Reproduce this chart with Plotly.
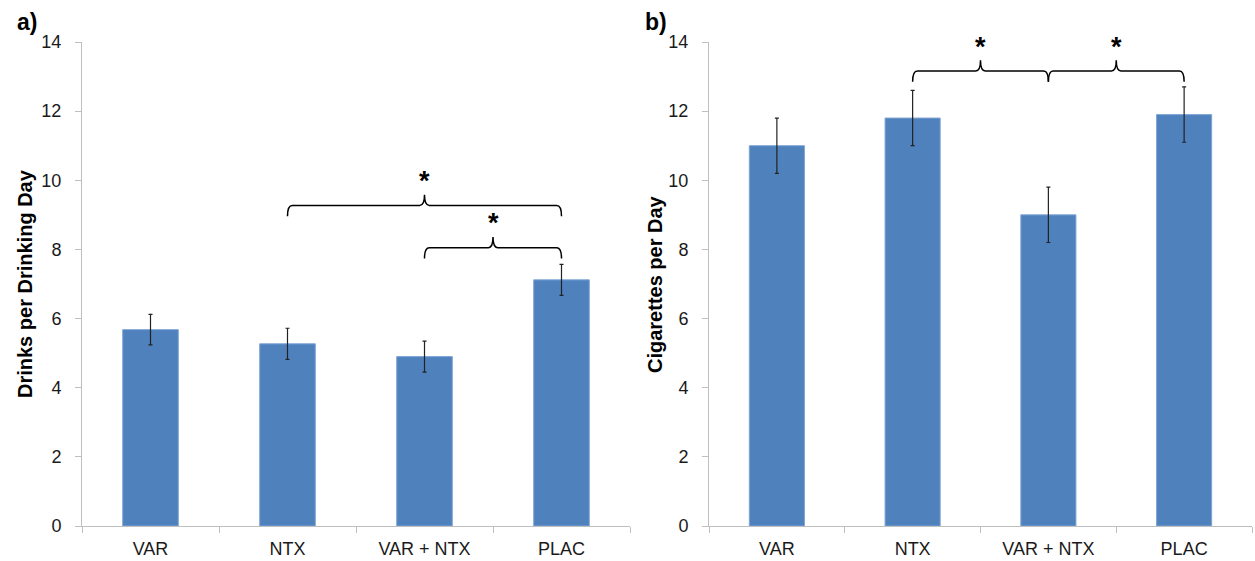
import plotly.graph_objects as go

categories = ["VAR", "NTX", "VAR + NTX", "PLAC"]
drinks = [5.68, 5.27, 4.90, 7.12]
drinks_err = [0.44, 0.45, 0.45, 0.45]
cigs = [11.0, 11.8, 9.0, 11.9]
cigs_err = [0.8, 0.8, 0.8, 0.8]
yticks = [0, 2, 4, 6, 8, 10, 12, 14]

# significance braces: (from index, to index, level)
drinks_sig = [(1, 3, 9.27), (2, 3, 8.05)]
cigs_sig = [(1, 2, 13.16), (2, 3, 13.16)]

BAR = "#4F81BD"
FONT = "Liberation Sans, Arial, sans-serif"

fig = go.Figure()
xs = list(range(len(categories)))
for vals, errs, ax in [(drinks, drinks_err, "x"), (cigs, cigs_err, "x2")]:
    fig.add_trace(go.Bar(
        x=xs, y=vals, width=0.406, xaxis=ax, yaxis="y" if ax == "x" else "y2",
        marker=dict(color=BAR, line=dict(color="#7FA5D6", width=1)),
        error_y=dict(type="data", array=errs, visible=True, color="#222222",
                     thickness=1.2, width=2),
        showlegend=False, hoverinfo="skip"))


def brace(x0, x1, yh):
    drop = 0.31
    tip = 0.31
    rx = 0.035
    xm = (x0 + x1) / 2
    return (f"M {x0},{yh - drop} Q {x0},{yh} {x0 + rx},{yh} "
            f"L {xm - rx},{yh} Q {xm},{yh} {xm},{yh + tip} "
            f"Q {xm},{yh} {xm + rx},{yh} L {x1 - rx},{yh} "
            f"Q {x1},{yh} {x1},{yh - drop}")


shapes = []
annotations = []
for sig, xr, yr in [(drinks_sig, "x", "y"), (cigs_sig, "x2", "y2")]:
    for a, b, lvl in sig:
        shapes.append(dict(type="path", path=brace(a, b, lvl), xref=xr, yref=yr,
                           line=dict(color="black", width=1.5)))
        annotations.append(dict(x=(a + b) / 2, y=lvl + 0.7, xref=xr, yref=yr, text="<b>*</b>",
                                showarrow=False, font=dict(size=27, color="black", family=FONT),
                                xanchor="center", yanchor="middle"))

for txt, px in [("<b>a)</b>", 27), ("<b>b)</b>", 656)]:
    annotations.append(dict(x=px / 1255, y=1 - 22 / 561, xref="paper", yref="paper", text=txt,
                            xanchor="center", yanchor="middle",
                            showarrow=False, font=dict(size=23, color="black", family=FONT)))
for txt, px in [("<b>Drinks per Drinking Day</b>", 25), ("<b>Cigarettes per Day</b>", 655)]:
    annotations.append(dict(x=px / 1255, y=(561 - 284) / 561, xref="paper", yref="paper", text=txt,
                            textangle=-90, xanchor="center", yanchor="middle",
                            showarrow=False, font=dict(size=20, color="black", family=FONT)))

xaxis_common = dict(range=[-0.5, 3.5], tickvals=xs, ticktext=categories, ticks="",
                    showline=True, linecolor="#BFBFBF", linewidth=1, showgrid=False, zeroline=False,
                    tickfont=dict(size=18, color="#1a1a1a", family=FONT), ticklabelstandoff=6,
                    minor=dict(ticks="outside", tick0=-0.5, dtick=1, ticklen=6, tickcolor="#BFBFBF",
                               showgrid=False),
                    automargin=False, fixedrange=True)
yaxis_common = dict(range=[0, 14], tickvals=yticks, ticks="outside", ticklen=6, tickcolor="#BFBFBF",
                    showline=True, linecolor="#BFBFBF", linewidth=1, showgrid=False, zeroline=False,
                    tickfont=dict(size=18, color="#1a1a1a", family=FONT), ticklabelstandoff=10,
                    automargin=False, fixedrange=True)

fig.update_layout(
    width=1255, height=561, margin=dict(l=0, r=0, t=0, b=0, autoexpand=False),
    plot_bgcolor="white", paper_bgcolor="white",
    xaxis=dict(domain=[82 / 1255, 630 / 1255], anchor="y", **xaxis_common),
    xaxis2=dict(domain=[709 / 1255, 1252 / 1255], anchor="y2", **xaxis_common),
    yaxis=dict(domain=[35 / 561, 519 / 561], anchor="x", **yaxis_common),
    yaxis2=dict(domain=[35 / 561, 519 / 561], anchor="x2", **yaxis_common),
    shapes=shapes, annotations=annotations,
)

fig.write_html("out.html", config={"displayModeBar": False},
               post_script="document.body.style.margin='0';document.body.style.overflow='hidden';")
